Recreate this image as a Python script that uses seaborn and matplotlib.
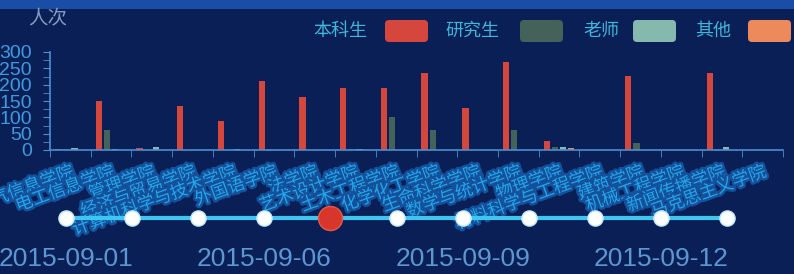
import numpy as np
import pandas as pd
import matplotlib
matplotlib.use("Agg")
import matplotlib.pyplot as plt
import matplotlib.patheffects as pe
from matplotlib.patches import FancyBboxPatch, Rectangle
from matplotlib.transforms import IdentityTransform
import seaborn as sns

# ---------------- data ----------------
colleges = ["电气信息学院", "电工信息学院", "管理学院", "经济与贸易学院", "计算机科学与技术学院",
            "外国语学院", "法学院", "艺术设计学院", "土木工程学院", "化学化工学院",
            "生命科学学院", "数学与统计学院", "物理学院", "材料科学与工程学院", "建筑学院",
            "机械工程学院", "新闻传播学院", "马克思主义学院"]
series_names = ["本科生", "研究生", "老师", "其他"]
undergrad = [4, 150, 5, 135, 88, 212, 162, 190, 190, 236, 130, 268, 28, 0, 228, 0, 237, 0]
graduate = [2, 62, 0, 0, 0, 3, 0, 4, 100, 61, 0, 61, 8, 0, 20, 0, 3, 0]
teacher = [5, 3, 8, 0, 2, 0, 0, 3, 0, 0, 0, 0, 10, 0, 0, 0, 8, 0]
other = [0, 0, 0, 0, 0, 0, 0, 0, 0, 0, 0, 0, 5, 0, 0, 0, 0, 0]
y_ticks = [0, 50, 100, 150, 200, 250, 300]
timeline_dates = ["2015-09-01", "2015-09-03", "2015-09-05", "2015-09-06", "2015-09-07",
                  "2015-09-08", "2015-09-09", "2015-09-10", "2015-09-11", "2015-09-12",
                  "2015-09-13"]
timeline_label_every = 3
current_index = 4
y_name = "人次"

colors = ["#d5473c", "#44615a", "#86b9ae", "#ec8a5c"]

df = pd.DataFrame({
    "college": colleges * 4,
    "type": sum([[s] * len(colleges) for s in series_names], []),
    "count": undergrad + graduate + teacher + other,
})

# ---------------- figure ----------------
W, H = 794, 274
BG = "#0b1f57"
TXT = "#3fb6dc"
AX = "#4a8fd0"

fig = plt.figure(figsize=(W / 100, H / 100), dpi=100, facecolor=BG)
plt.rcParams["font.family"] = ["Noto Sans CJK SC", "DejaVu Sans"]


def fx(x):
    return x / W


def fy(y):
    return 1 - y / H


# top band
fig.patches.append(Rectangle((0, fy(9)), 1, 9 / H, transform=fig.transFigure,
                             facecolor="#1a4ea6", edgecolor="none", zorder=0))

ax = fig.add_axes([fx(50), fy(150), 733 / W, 98 / H])
ax.set_facecolor("none")
sns.barplot(data=df, x="college", y="count", hue="type", order=colleges,
            hue_order=series_names, palette=colors, width=0.8, gap=0.22,
            saturation=1, legend=False, ax=ax, errorbar=None)
ax.set_xlim(-0.5, len(colleges) - 0.5)
ax.set_ylim(0, 300)
ax.set_xlabel("")
ax.set_ylabel("")

for s in ["top", "right"]:
    ax.spines[s].set_visible(False)
for s in ["left", "bottom"]:
    ax.spines[s].set_color(AX)
    ax.spines[s].set_linewidth(1.2)

ax.set_yticks(y_ticks)
ax.set_yticklabels([str(v) for v in y_ticks], family="Liberation Sans",
                   fontsize=14, color="#3f9be0")
ax.set_yticks(np.arange(25, 300, 50), minor=True)
ax.tick_params(axis="y", which="both", direction="out", length=5, color=AX, pad=8)

ax.set_xticks(range(len(colleges)))
ax.set_xticklabels(colleges, rotation=20, ha="right", va="top",
                   rotation_mode="anchor", fontsize=12.5, color="#22a6ea")
for t in ax.get_xticklabels():
    t.set_path_effects([pe.withStroke(linewidth=3.5, foreground="#15509a")])
ax.set_xticks(np.arange(-0.5, len(colleges), 1), minor=True)
ax.tick_params(axis="x", which="major", length=0, pad=9)
ax.tick_params(axis="x", which="minor", direction="out", length=5, color=AX)

# y axis name
fig.text(fx(28), fy(18), y_name, fontsize=14, color="#7f9cc4", ha="left", va="center")

# legend (manual, echarts style: text then box)
leg_text_x = [313, 445, 583, 695]
leg_box_x = [385, 520, 633, 748]
box_w, box_h, leg_y = 43, 22, 31
for name, c, tx, bx in zip(series_names, colors, leg_text_x, leg_box_x):
    fig.text(fx(tx), fy(leg_y), name, fontsize=13, color=TXT, ha="left", va="center")
    fig.patches.append(FancyBboxPatch((bx, H - leg_y - box_h / 2), box_w, box_h,
                                      boxstyle="round,pad=0,rounding_size=4",
                                      transform=IdentityTransform(),
                                      facecolor=c, edgecolor="none"))

# timeline
ax2 = fig.add_axes([fx(66), fy(233), 661 / W, 30 / H])
ax2.set_xlim(0, len(timeline_dates) - 1)
ax2.set_ylim(-1, 1)
ax2.axis("off")
idx = np.arange(len(timeline_dates))
tl = pd.DataFrame({"i": idx, "y": np.zeros(len(idx))})
sns.lineplot(data=tl, x="i", y="y", color="#3ec6f0", linewidth=3, ax=ax2)
sns.scatterplot(data=tl, x="i", y="y", color="white", s=120, edgecolor="#bfe8ff",
                linewidth=1, zorder=3, ax=ax2, clip_on=False)
ax2.scatter([current_index], [0], s=300, color="#d9362b", zorder=4, clip_on=False,
            edgecolor="#e25a4a", linewidth=1)
ax2.set_xlabel("")
ax2.set_ylabel("")

for i in range(0, len(timeline_dates), timeline_label_every):
    x_px = 66 + i * 661 / (len(timeline_dates) - 1)
    fig.text(fx(x_px), fy(259), timeline_dates[i], family="Liberation Sans",
             fontsize=19, color="#5a98d2", ha="center", va="center")

fig.savefig("out.png", dpi=100, facecolor=BG)
